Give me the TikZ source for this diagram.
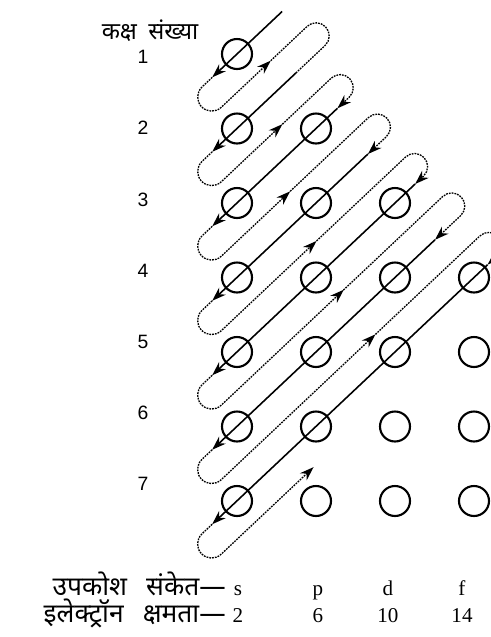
\documentclass[tikz,border=0pt]{standalone}
\usepackage{fontspec}
\setmainfont{Liberation Serif}
\newfontfamily\hindi[Script=Devanagari]{Noto Sans}
\newfontfamily\numsans{Liberation Sans}
\usetikzlibrary{arrows.meta}

\begin{document}
\begin{tikzpicture}[x=0.02cm, y=0.02cm, >={Stealth[length=8pt,width=5.5pt]},
  orb/.style={circle, draw, line width=1.2pt, minimum size=0.6cm, inner sep=0pt},
  diagline/.style={line width=0.9pt},
  dotline/.style={line width=0.75pt, dash pattern=on 1pt off 0.6pt},
  rowlbl/.style={font=\numsans\fontsize{11}{13}\selectfont},
  hinditxt/.style={font=\hindi\fontsize{13.5}{15}\selectfont, inner sep=0pt, anchor=base east},
  symlbl/.style={font=\fontsize{12}{14}\selectfont, inner sep=0pt, anchor=base}]
  \path[use as bounding box, clip] (0,0) rectangle (491,-637);
  % orbitals
  \foreach \n in {1,...,7} {
    \foreach [count=\l from 0] \sub in {s,p,d,f} {
      \ifnum\l<\n
        \node[orb] (\sub\n) at ({237+79*\l}, {-54-74.5*(\n-1)}) {};
      \fi
    }
    \node[rowlbl] (row\n) at (143, {-57-71.2*(\n-1)}) {\n};
  }
  \node[hinditxt, anchor=center] (title) at (150,-31) {कक्ष\hspace{3pt} संख्या};
  % bottom table
  \node[hinditxt, font=\hindi\fontsize{15}{17}\selectfont] (subshell) at (226,-595) {उपकोश\hspace{7pt} संकेत—};
  \node[hinditxt, font=\hindi\fontsize{15}{17}\selectfont] (capacity) at (226,-622) {इलेक्ट्रॉन\hspace{7pt} क्षमता—};
  \foreach \t/\x in {s/238, p/318, d/388, f/462}
    \node[symlbl] (sym\t) at (\x,-595) {\t};
  \foreach \c/\x in {2/238, 6/318, 10/388, 14/462}
    \node[symlbl] (cap\c) at (\x,-622) {\c};
  % filling order
  \begin{scope}[shift={(s1.center)}, rotate=43.3]
    \foreach \k/\t/\r in {1/62/20, 2/30/36, 3/35.8/46.7, 4/26.7/83, 5/40.5/120.5, 6/16.7/164, 7/37.9/79} {
      \pgfmathsetmacro\yk{-54.2*(\k-1)}
      \pgfmathsetmacro\xk{-51.1*(\k-1)}
      \draw[diagline, ->] (\t,\yk) -- ({\xk-34},\yk);
      \draw[dotline, ->] ({\xk-34},\yk) -- ({\xk-48},\yk)
        arc[start angle=90, end angle=270, radius=14] -- ({\xk+\r},{\yk-28});
    }
    \foreach \k/\rx/\c/\t/\tip in {1/20/70/30/-, 2/-15.1/52/35.8/->, 3/-55.5/52/26.7/->,
        4/-70.3/52/40.5/->, 5/-84.4/52/16.7/->, 6/-91.5/52/37.9/->} {
      \pgfmathsetmacro\yk{-54.2*(\k-1)}
      \draw[dotline, \tip] (\rx,{\yk-28}) -- (\c,{\yk-28})
        arc[start angle=90, end angle=-90, radius=13.1] -- (\t,{\yk-54.2});
    }
  \end{scope}
\end{tikzpicture}
\end{document}
